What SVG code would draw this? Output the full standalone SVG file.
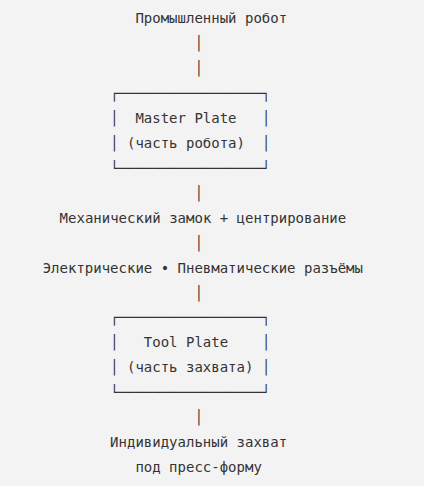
<svg xmlns="http://www.w3.org/2000/svg" width="424" height="486" viewBox="0 0 424 486" xml:space="preserve">
<style>
.t{font-family:"DejaVu Sans Mono","Liberation Mono",monospace;font-size:14px;fill:#333;white-space:pre}
</style>
<rect width="424" height="486" fill="#f3f3f3"/>
<g id="robot"><text class="t" x="135.4" y="23">Промышленный робот</text></g>
<g id="master-plate">
<text class="t" x="110.1" y="97.9">┌─────────────────┐</text>
<text class="t" x="110.1" y="122.8">│  Master Plate   │</text>
<text class="t" x="110.1" y="147.8">│ (часть робота)  │</text>
<text class="t" x="110.1" y="172.7">└─────────────────┘</text>
</g>
<g id="mech-lock"><text class="t" x="59.6" y="222.6">Механический замок + центрирование</text></g>
<g id="connectors-label"><text class="t" x="42.7" y="272.5">Электрические • Пневматические разъёмы</text></g>
<g id="tool-plate">
<text class="t" x="110.1" y="322.4">┌─────────────────┐</text>
<text class="t" x="110.1" y="347.4">│   Tool Plate    │</text>
<text class="t" x="110.1" y="372.3">│ (часть захвата) │</text>
<text class="t" x="110.1" y="397.3">└─────────────────┘</text>
</g>
<g id="gripper">
<text class="t" x="110.1" y="447.2">Индивидуальный захват</text>
<text class="t" x="135.4" y="472.1">под пресс-форму</text>
</g>
<g id="connectors">
<text class="t" x="194.4" y="48">│</text>
<text class="t" x="194.4" y="72.9">│</text>
<text class="t" x="194.4" y="197.7">│</text>
<text class="t" x="194.4" y="247.6">│</text>
<text class="t" x="194.4" y="297.5">│</text>
<text class="t" x="194.4" y="422.2">│</text>
</g>
</svg>
